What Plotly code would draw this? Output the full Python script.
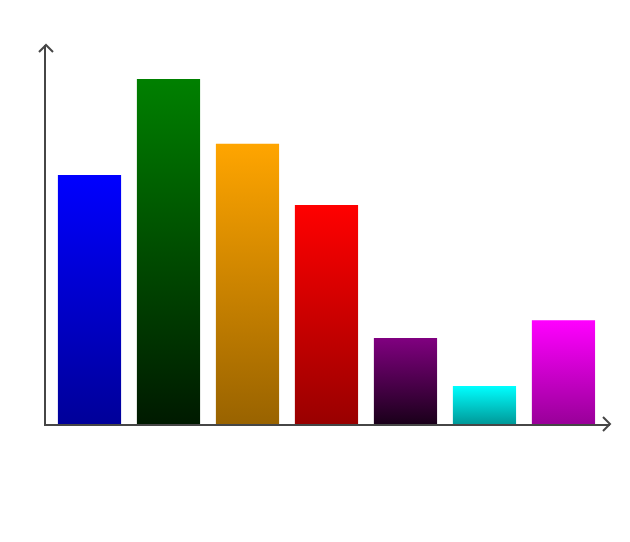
import plotly.graph_objects as go
import colorsys

categories = ["A", "B", "C", "D", "E", "F", "G"]
values = [72.2, 100, 81.2, 63.5, 24.9, 11.0, 30.1]
top_colors = ["#0000ff", "#008000", "#ffa500", "#ff0000", "#800080", "#00ffff", "#ff00ff"]


def darker(hexc, dl=0.2):
    r, g, b = (int(hexc[i:i + 2], 16) / 255 for i in (1, 3, 5))
    h, l, s = colorsys.rgb_to_hls(r, g, b)
    l = max(0.0, l - dl)
    r, g, b = colorsys.hls_to_rgb(h, l, s)
    return "rgb(%d,%d,%d)" % (round(r * 255), round(g * 255), round(b * 255))


bar_width = 0.8
fig = go.Figure()
for i, (cat, v, c) in enumerate(zip(categories, values, top_colors)):
    x0, x1 = i - bar_width / 2, i + bar_width / 2
    fig.add_trace(go.Scatter(
        x=[x0, x1, x1, x0, x0], y=[0, 0, v, v, 0],
        mode="lines", fill="toself", line=dict(width=0),
        fillgradient=dict(type="vertical", start=0, stop=v,
                          colorscale=[[0, darker(c)], [1, c]]),
        hoverinfo="skip", showlegend=False, name=cat,
    ))

axis_col = "#464646"
fig.update_layout(
    width=614, height=526,
    margin=dict(l=38, r=12, t=37, b=110),
    paper_bgcolor="white", plot_bgcolor="white",
    xaxis=dict(range=[-0.5506, 6.589], showgrid=False, zeroline=False,
               showticklabels=False, ticks="", showline=True,
               linecolor=axis_col, linewidth=2),
    yaxis=dict(range=[0, 109.86], showgrid=False, zeroline=False,
               showticklabels=False, ticks="", showline=True,
               linecolor=axis_col, linewidth=2),
    shapes=[
        dict(type="path", xref="paper", yref="paper", xsizemode="pixel", ysizemode="pixel",
             xanchor=0, yanchor=1, path="M -7,-7 L 0,0 L 7,-7",
             line=dict(color=axis_col, width=2)),
        dict(type="path", xref="paper", yref="paper", xsizemode="pixel", ysizemode="pixel",
             xanchor=1, yanchor=0, path="M -7,7 L 0,0 L -7,-7",
             line=dict(color=axis_col, width=2)),
    ],
)

fig.write_html("out.html")
